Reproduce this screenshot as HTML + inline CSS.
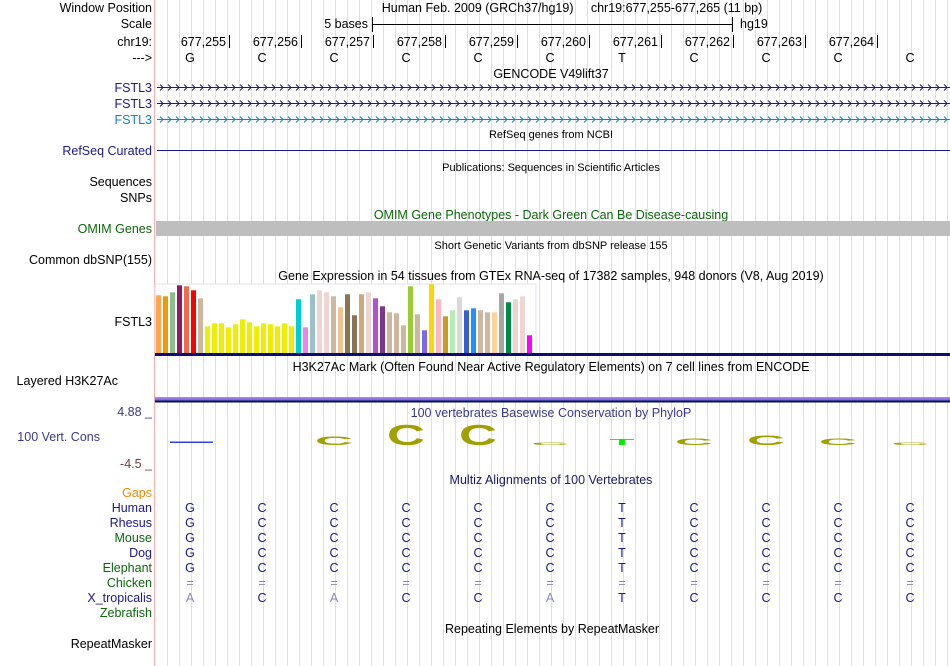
<!DOCTYPE html>
<html><head><meta charset="utf-8"><style>
body{margin:0;background:#fff;width:950px;height:666px;overflow:hidden;font-family:"Liberation Sans",sans-serif}
svg{display:block}
text{font-family:"Liberation Sans",sans-serif}
</style></head><body>
<svg id="s" width="950" height="666">
<g id="grid"></g>
<line x1="154.5" y1="0" x2="154.5" y2="666" stroke="#f4b0b0"/>
<g font-size="12.5" text-anchor="end">
<text x="152" y="12" fill="#000">Window Position</text>
<text x="152" y="28" fill="#000">Scale</text>
<text x="152" y="46" fill="#000">chr19:</text>
<text x="152" y="62" fill="#000">---&gt;</text>
<text x="152" y="92" fill="#1a1a8c">FSTL3</text>
<text x="152" y="108" fill="#1a1a8c">FSTL3</text>
<text x="152" y="124" fill="#1a7fc0">FSTL3</text>
<text x="152" y="155" fill="#1a1a8c">RefSeq Curated</text>
<text x="152" y="186" fill="#000">Sequences</text>
<text x="152" y="202" fill="#000">SNPs</text>
<text x="152" y="233" fill="#0d660d">OMIM Genes</text>
<text x="152" y="264" fill="#000">Common dbSNP(155)</text>
<text x="152" y="326" fill="#000">FSTL3</text>
<text x="118" y="385" fill="#000">Layered H3K27Ac</text>
<text x="152" y="416" fill="#3a3a8c">4.88 _</text>
<text x="100" y="441" fill="#3a3a8c">100 Vert. Cons</text>
<text x="152" y="468" fill="#7a3a3a">-4.5 _</text>
<text x="152" y="497" fill="#ee8800">Gaps</text>
<text x="152" y="512" fill="#1a1a8c">Human</text>
<text x="152" y="527" fill="#1a1a8c">Rhesus</text>
<text x="152" y="542" fill="#0d660d">Mouse</text>
<text x="152" y="557" fill="#1a1a8c">Dog</text>
<text x="152" y="572" fill="#0d660d">Elephant</text>
<text x="152" y="587" fill="#0d660d">Chicken</text>
<text x="152" y="602" fill="#1a1a8c">X_tropicalis</text>
<text x="152" y="617" fill="#0d660d">Zebrafish</text>
<text x="152" y="648" fill="#000">RepeatMasker</text>
</g>
<g font-size="12.5" text-anchor="middle">
<text x="572" y="12" xml:space="preserve">Human Feb. 2009 (GRCh37/hg19)     chr19:677,255-677,265 (11 bp)</text>
<text x="551" y="78">GENCODE V49lift37</text>
<text x="551" y="138" font-size="11">RefSeq genes from NCBI</text>
<text x="551" y="171" font-size="11">Publications: Sequences in Scientific Articles</text>
<text x="551" y="219" fill="#0d660d">OMIM Gene Phenotypes - Dark Green Can Be Disease-causing</text>
<text x="551" y="249" font-size="11">Short Genetic Variants from dbSNP release 155</text>
<text x="551" y="280">Gene Expression in 54 tissues from GTEx RNA-seq of 17382 samples, 948 donors (V8, Aug 2019)</text>
<text x="551" y="371">H3K27Ac Mark (Often Found Near Active Regulatory Elements) on 7 cell lines from ENCODE</text>
<text x="551" y="417" fill="#3a3a8c">100 vertebrates Basewise Conservation by PhyloP</text>
<text x="551" y="484" fill="#1a1a6c">Multiz Alignments of 100 Vertebrates</text>
<text x="552" y="633">Repeating Elements by RepeatMasker</text>
</g>
<g>
<text x="368" y="28" font-size="12.5" text-anchor="end">5 bases</text>
<line x1="372" y1="24.5" x2="732" y2="24.5" stroke="#000"/>
<line x1="372.5" y1="17" x2="372.5" y2="32" stroke="#000"/>
<line x1="732.5" y1="17" x2="732.5" y2="32" stroke="#000"/>
<text x="740" y="28" font-size="12.5">hg19</text>
</g>
<g id="ruler" font-size="12.5"></g>
<g id="genes"></g>
<line x1="157" y1="150.5" x2="950" y2="150.5" stroke="#1a1a8c"/>
<rect x="156" y="221" width="794" height="15" fill="#bebebe"/>
<rect x="155" y="284" width="381" height="70" fill="#fff" stroke="#e0e0ee"/>
<g id="gtex"></g>
<rect x="155" y="353" width="795" height="3" fill="#0c0c74"/>
<g>
<rect x="155" y="397" width="795" height="1.5" fill="#d070f0"/>
<rect x="155" y="398.5" width="795" height="2" fill="#6c7ad8"/>
<rect x="155" y="400.5" width="795" height="2" fill="#0c0c5c"/>
</g>
<g id="cons"></g>
<g id="multiz" font-size="12.5" text-anchor="middle"></g>
</svg>
<script>
const NS="http://www.w3.org/2000/svg";
const gtexValues=[57.7,56.7,60.7,67.7,66.7,62.7,54.7,26.7,29.7,29.7,25.7,28.7,33.7,30.7,26.7,29.7,28.7,26.7,29.7,26.7,53.7,25.7,58.7,62.7,60.7,56.7,45.7,58.7,37.7,58.7,60.7,54.7,46.7,40.7,39.7,27.7,66.7,38.7,22.7,68.7,53.7,36.7,42.7,55.7,42.7,44.7,42.7,40.7,40.7,59.7,50.7,53.7,56.7,17.7];
const gtexColors=["#FFA54F","#EE9A00","#8FBC8F","#8B1C62","#EE6A50","#FF0000","#CDB79E","#EEEE00","#EEEE00","#EEEE00","#EEEE00","#EEEE00","#EEEE00","#EEEE00","#EEEE00","#EEEE00","#EEEE00","#EEEE00","#EEEE00","#EEEE00","#00CED1","#EE82EE","#9AC0CD","#EED5D2","#EED5D2","#CDB79E","#EEC591","#8B7355","#8B7355","#CDAA7D","#EED5D2","#B452CD","#7A378B","#CDB79E","#CDB79E","#CDB79E","#9ACD32","#CDB79E","#7B68EE","#FFD700","#FFB6C1","#CD9B1D","#B4EEB4","#D9D9D9","#3A5FCD","#1E90FF","#CDB79E","#CDB79E","#FFD39B","#A6A6A6","#008B45","#EED5D2","#EED5D2","#FF00FF"];
const positions=["677,255","677,256","677,257","677,258","677,259","677,260","677,261","677,262","677,263","677,264"];
const bases=["G","C","C","C","C","C","T","C","C","C","C"];
const consValues=[0.3,0,1.9,4.5,4.5,0.6,1.3,1.5,2.1,1.5,0.6];
const species=["Human","Rhesus","Mouse","Dog","Elephant","Chicken","X_tropicalis","Zebrafish"];
const speciesRows=[
"GCCCCCTCCCC","GCCCCCTCCCC","GCCCCCTCCCC","GCCCCCTCCCC","GCCCCCTCCCC","===========","ACACCATCCCC","           "];

function el(tag,attrs,parent){const e=document.createElementNS(NS,tag);for(const k in attrs)e.setAttribute(k,attrs[k]);parent.appendChild(e);return e;}
const baseX=i=>190+i*72;
// grid
const grid=document.getElementById('grid');
for(let x=167;x<950;x+=12){
 const l=el('line',{x1:x+0.5,y1:0,x2:x+0.5,y2:666,stroke:'#dcdcf4'},grid);
 
 
}
// genes
const genes=document.getElementById('genes');
[[87.5,'#1a1a8c'],[103.5,'#1a1a8c'],[119.5,'#1a7fc0']].forEach(([y,c])=>{
 let d=`M157 ${y} L950 ${y}`;
 for(let x=160;x<948;x+=8){d+=` M${x} ${y-3} L${x+3} ${y} L${x} ${y+3}`;}
 const p=el('path',{d:d,stroke:c,fill:'none','stroke-width':1},genes);
 
 
});
// ruler
const ruler=document.getElementById('ruler');
positions.forEach((p,i)=>{
 const tx=229+i*72;
 const t=el('text',{x:tx-3,y:46,'text-anchor':'end'},ruler);t.textContent=p;
 
 
 const l=el('line',{x1:tx+0.5,y1:35,x2:tx+0.5,y2:48,stroke:'#000'},ruler);
 
 
});
bases.forEach((b,i)=>{
 const t=el('text',{x:baseX(i),y:62,'text-anchor':'middle'},ruler);t.textContent=b;
 
 
});
// gtex bars
const gtex=document.getElementById('gtex');
const gMax=70, gBase=353, gH=70;
const yG=v=>gBase-v/gMax*gH;
gtexValues.forEach((v,i)=>{
 const r=el('rect',{x:156+i*7,y:yG(v),width:5,height:gBase-yG(v),fill:gtexColors[i]},gtex);
 
 
});
// conservation
const cons=document.getElementById('cons');
const cBase=445, cScale=4.7;
consValues.forEach((v,i)=>{
 const x=baseX(i);
 if(i===0){
  const r=el('rect',{x:170,y:441.5,width:43,height:1.5,fill:'#3040e0'},cons);
  
  
  return;
 }
 if(v<=0)return;
 const h=Math.max(v*cScale,2);
 const b=bases[i];
 const fill=b==='T'?'#00ee00':'#a0a000';
 const sy=h/9.2;
 const sx=b==='T'?3.3:4.2;
 const t=el('text',{x:0,y:0,'font-size':12.5,'font-weight':'bold','text-anchor':'middle',fill:fill,transform:`translate(${x},${cBase}) scale(${sx},${sy})`},cons);
 t.textContent=b;
 
 
});
// multiz
const mz=document.getElementById('multiz');
speciesRows.forEach((row,r)=>{
 [...row].forEach((c,i)=>{
  if(c===' ')return;
  const dim=(c==='='||(r===6&&c==='A'));
  const t=el('text',{x:baseX(i),y:512+r*15,fill:dim?'#8888bb':'#1a1a8c'},mz);
  t.textContent=c;
  
  
 });
});
</script>
</body></html>
